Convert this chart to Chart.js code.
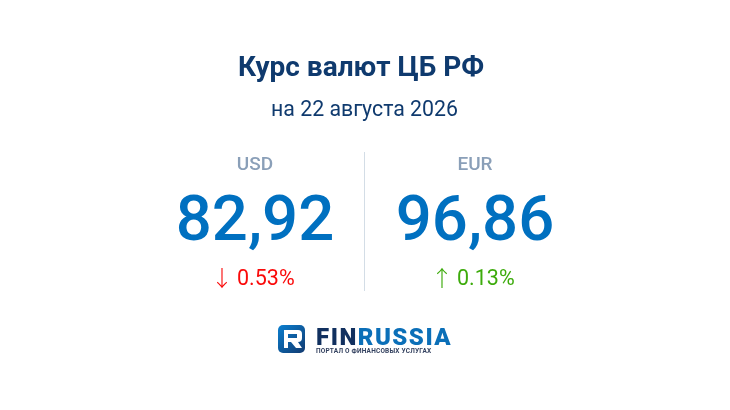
<!DOCTYPE html>
<html lang="ru">
<head>
<meta charset="utf-8">
<title>Курс валют ЦБ РФ</title>
<script src="https://cdn.jsdelivr.net/npm/chart.js@4"></script>
<style>
    html, body { margin: 0; padding: 0; background: #fff; }
    canvas { display: block; }
</style>
</head>
<body>
<canvas id="kurs" width="730" height="410"></canvas>
<script>
const chartTitle = "Курс валют ЦБ РФ\u00a0";
const chartDate = "на 22 августа 2026";
const currencies = ["USD", "EUR"];
const rates = [82.92, 96.86];
const changes = [-0.53, 0.13];
const logoLeft = "FIN";
const logoRight = "RUSSIA";
const logoTagline = "ПОРТАЛ О ФИНАНСОВЫХ УСЛУГАХ";

const font = "Roboto, sans-serif";

// currency names sit inside the divider's span, so they go here with the numbers
const cardPlugin = {
    id: "card",
    afterDatasetsDraw(chart) {
        const { ctx, chartArea } = chart;
        const points = chart.getDatasetMeta(0).data;
        ctx.save();
        ctx.textBaseline = "alphabetic";
        points.forEach((p, i) => {
            const x = p.x + 0.5;
            ctx.textAlign = "center";
            ctx.font = `500 19px ${font}`;
            ctx.fillStyle = "#8a9fb8";
            ctx.fillText(chart.data.labels[i], x, chartArea.top + 18);

            ctx.font = `500 63.5px ${font}`;
            ctx.fillStyle = "#0070c0";
            ctx.fillText(rates[i].toFixed(2).replace(".", ","), x, chartArea.top + 88);

            const up = changes[i] > 0;
            ctx.fillStyle = up ? "#3dab0c" : "#fa0a0a";
            ctx.textAlign = "left";
            ctx.font = `400 21.5px ${font}`;
            ctx.fillText(`${Math.abs(changes[i]).toFixed(2)}%`, x - 18, chartArea.top + 133);
            ctx.textAlign = "center";
            ctx.font = `300 22px "Noto Sans CJK SC"`;
            ctx.fillText(up ? "↑" : "↓", x - 33, chartArea.top + 134);
        });
        ctx.restore();
        drawLogo(ctx);
    }
};

function drawLogo(ctx) {
    ctx.save();
    const grad = ctx.createLinearGradient(278, 325, 305, 353);
    grad.addColorStop(0, "#0a7fd0");
    grad.addColorStop(1, "#123a70");
    ctx.fillStyle = grad;
    ctx.beginPath();
    ctx.roundRect(278, 325, 27, 28, 5);
    ctx.fill();

    // the R mark, with its bowl cut out
    ctx.fillStyle = "#fff";
    ctx.beginPath();
    ctx.moveTo(284, 330);
    ctx.lineTo(298, 330);
    ctx.quadraticCurveTo(302, 330, 302, 334);
    ctx.lineTo(302, 338);
    ctx.quadraticCurveTo(302, 342, 298, 342);
    ctx.lineTo(302, 348);
    ctx.lineTo(296, 348);
    ctx.lineTo(291, 342);
    ctx.lineTo(288, 342);
    ctx.lineTo(288, 348);
    ctx.lineTo(284, 348);
    ctx.closePath();
    ctx.rect(288, 334, 9, 4);
    ctx.fill("evenodd");

    ctx.textAlign = "left";
    ctx.font = `900 24px ${font}`;
    ctx.letterSpacing = "1.5px";
    ctx.fillStyle = "#11305f";
    ctx.fillText(logoLeft, 316, 345);
    const w = ctx.measureText(logoLeft).width;
    ctx.fillStyle = "#0b6fb8";
    ctx.fillText(logoRight, 316 + w, 345);

    ctx.font = `700 6.5px ${font}`;
    ctx.letterSpacing = "0.2px";
    ctx.fillStyle = "#33415f";
    ctx.fillText(logoTagline, 316, 353);
    ctx.restore();
}

new Chart(document.getElementById("kurs"), {
    type: "line",
    data: {
        labels: currencies,
        datasets: [{ data: rates, showLine: false, pointRadius: 0 }]
    },
    plugins: [cardPlugin],
    options: {
        responsive: false,
        animation: false,
        layout: { padding: { left: 144.5, right: 145.5, bottom: 119, top: 0 } },
        plugins: {
            legend: { display: false },
            tooltip: { enabled: false },
            title: {
                display: true,
                text: chartTitle,
                color: "#0f3a6e",
                font: { family: font, size: 28, weight: "700" },
                padding: { top: 52, bottom: 12 }
            },
            subtitle: {
                display: true,
                text: chartDate,
                color: "#0f3a6e",
                font: { family: font, size: 21.3, weight: "400" },
                padding: { top: 0, bottom: 29 }
            }
        },
        scales: {
            x: {
                position: "top",
                offset: true,
                border: { display: false },
                grid: {
                    offset: true,
                    drawTicks: false,
                    color: ctx => ctx.index === 1 ? "#d3dde6" : "transparent"
                },
                ticks: { display: false }
            },
            y: { display: false, min: 0, max: 100 }
        }
    }
});
</script>
</body>
</html>
